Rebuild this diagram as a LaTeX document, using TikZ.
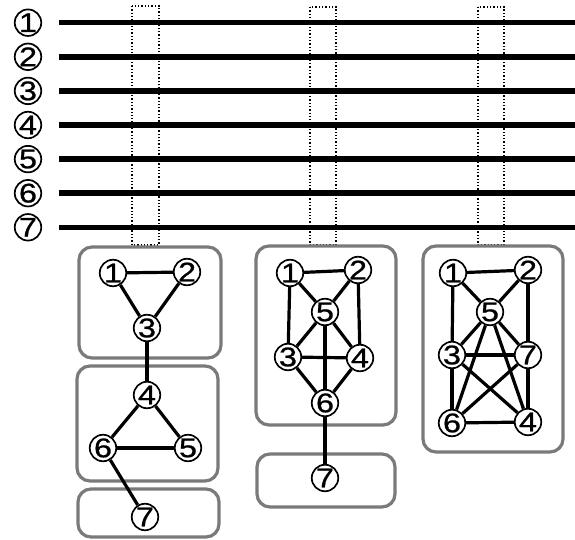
\documentclass[tikz,border=0pt]{standalone}
\usepackage{fontspec}
\setmainfont{Liberation Sans}
\newfontfamily\digitfont[FakeStretch=1.2,FakeBold=0.8]{Liberation Sans}
\begin{document}
\begin{tikzpicture}[x=1pt,y=-1pt,
  gnode/.style={circle,draw,line width=1.7pt,fill=white,inner sep=0pt,minimum size=26.5pt,font=\digitfont\fontsize{27}{27}\selectfont},
  edge/.style={line width=3.2pt},
  grpbox/.style={draw=black!52,line width=3.2pt,rounded corners=13pt},
  busline/.style={line width=5.5pt},
  slot/.style={dotted,line width=1.3pt}]
\useasboundingbox (0,0) rectangle (575,540);
% dotted slots
\draw[slot] (132,6) rectangle (159,245);
\draw[slot] (310,7) rectangle (336,245);
\draw[slot] (478,7) rectangle (504,245);
% left labels and lines
\foreach \i in {1,...,7}{
  \pgfmathsetmacro{\yy}{22.7+34.1*(\i-1)}
  \node[gnode] (l\i) at (28,\yy) {\i};
  \coordinate (s\i) at (59,\yy);
  \coordinate (e\i) at (575,\yy);
  \draw[busline] (s\i) -- (e\i);
}
% group boxes
\draw[grpbox] (79,247) rectangle (221,358);
\draw[grpbox] (77,366) rectangle (218,481);
\draw[grpbox] (78,489) rectangle (219,537);
\draw[grpbox] (256,246) rectangle (396,425);
\draw[grpbox] (257,454) rectangle (395,507);
\draw[grpbox] (423,246) rectangle (563,452);
% graph 1
\node[gnode] (a1) at (113,273) {1};
\node[gnode] (a2) at (187,272) {2};
\node[gnode] (a3) at (147,328) {3};
\node[gnode] (a4) at (147,395) {4};
\node[gnode] (a6) at (103,448) {6};
\node[gnode] (a5) at (188,448) {5};
\node[gnode] (a7) at (145,517) {7};
\foreach \u/\v in {a1/a2,a1/a3,a2/a3,a3/a4,a4/a6,a4/a5,a6/a5,a6/a7}
  \draw[edge] (\u) -- (\v);
% graph 2
\node[gnode] (b1) at (290,273) {1};
\node[gnode] (b2) at (358,270) {2};
\node[gnode] (b5) at (325,312) {5};
\node[gnode] (b3) at (288,357) {3};
\node[gnode] (b4) at (360,358) {4};
\node[gnode] (b6) at (325,403) {6};
\node[gnode] (b7) at (325,478) {7};
\foreach \u/\v in {b1/b2,b1/b5,b2/b5,b1/b3,b2/b4,b5/b3,b5/b4,b5/b6,b3/b4,b3/b6,b4/b6,b6/b7}
  \draw[edge] (\u) -- (\v);
% graph 3
\node[gnode] (c1) at (453,273) {1};
\node[gnode] (c2) at (528,270) {2};
\node[gnode] (c5) at (490,312) {5};
\node[gnode] (c3) at (452,355) {3};
\node[gnode] (c7) at (528,355) {7};
\node[gnode] (c6) at (452,423) {6};
\node[gnode] (c4) at (528,422) {4};
\foreach \u/\v in {c1/c2,c1/c5,c2/c5,c1/c3,c2/c7,c5/c3,c5/c7,c5/c6,c5/c4,c3/c7,c3/c6,c3/c4,c7/c6,c7/c4,c6/c4}
  \draw[edge] (\u) -- (\v);
\end{tikzpicture}
\end{document}
